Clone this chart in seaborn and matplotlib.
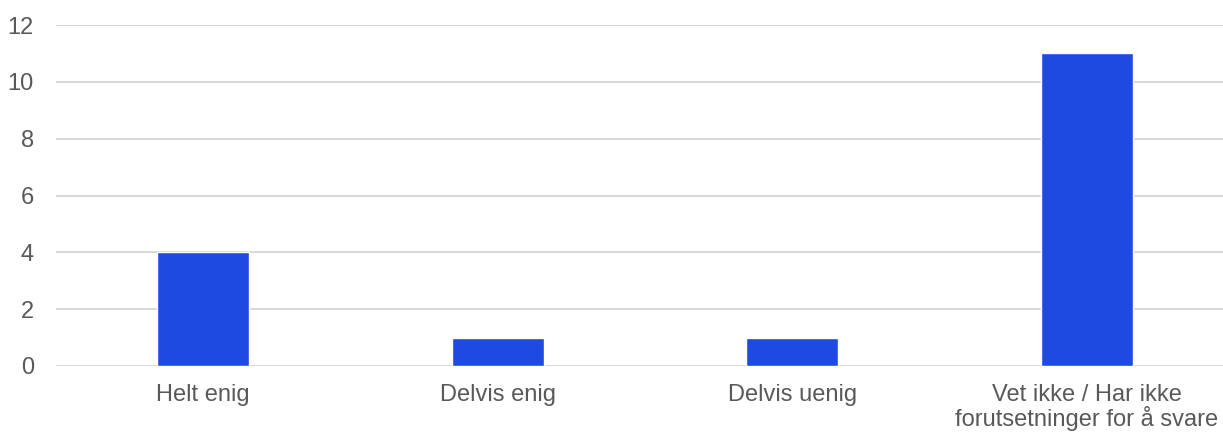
import matplotlib
matplotlib.use("Agg")
import matplotlib.pyplot as plt
import seaborn as sns
import pandas as pd

categories = ["Helt enig", "Delvis enig", "Delvis uenig",
              "Vet ikke / Har ikke\nforutsetninger for å svare"]
values = [4, 1, 1, 11]
yticks = [0, 2, 4, 6, 8, 10, 12]

sns.set_theme(style="white")
plt.rcParams['font.family'] = ['Liberation Sans', 'DejaVu Sans']

df = pd.DataFrame({"category": categories, "value": values})

fig = plt.figure(figsize=(12.23, 4.34), dpi=100)
ax = fig.add_axes([56/1223, 1-366/434, 1-56/1223, (366-25)/434])
sns.barplot(data=df, x="category", y="value", color="#1F4AE2",
            saturation=1, width=0.3125, ax=ax, zorder=3)

ax.set_ylim(0, 12)
ax.set_xlim(-0.5, 3.463)
ax.set_yticks(yticks)
ax.yaxis.grid(True, color="#d9d9d9", linewidth=1.5, zorder=0)
ax.xaxis.grid(False)
ax.set_axisbelow(True)
for s in ax.spines.values():
    s.set_visible(False)
ax.set_xlabel("")
ax.set_ylabel("")
ax.tick_params(axis="y", length=0, pad=16, labelsize=17, labelcolor="#595959")
ax.tick_params(axis="x", length=0, pad=13, labelsize=17, labelcolor="#595959")
for lbl in ax.get_xticklabels():
    lbl.set_linespacing(1.0)

fig.savefig("out.png", dpi=100)
